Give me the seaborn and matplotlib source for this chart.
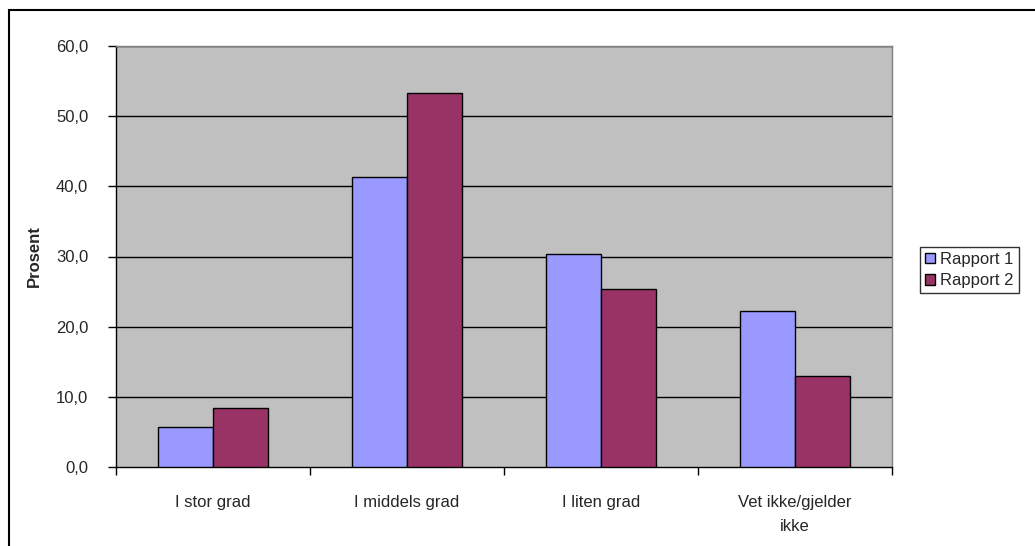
import pandas as pd
import numpy as np
import seaborn as sns
import matplotlib.pyplot as plt
import matplotlib.ticker as ticker
from matplotlib.patches import Rectangle

categories = ["I stor grad", "I middels grad", "I liten grad", "Vet ikke/gjelder\nikke"]
rapport_1 = [5.7, 41.4, 30.3, 22.2]
rapport_2 = [8.4, 53.3, 25.3, 13.0]
series_names = ["Rapport 1", "Rapport 2"]
y_ticks = [0, 10, 20, 30, 40, 50, 60]

df = pd.DataFrame({
    "kategori": categories * 2,
    "prosent": rapport_1 + rapport_2,
    "serie": [series_names[0]] * 4 + [series_names[1]] * 4,
})

sns.set_style("white")
plt.rcParams["font.family"] = ["Liberation Sans", "DejaVu Sans"]
fs = 12

fig = plt.figure(figsize=(10.35, 5.46), dpi=100)
ax = fig.add_axes([116 / 1035, 1 - 467 / 546, (892 - 116) / 1035, (467 - 46) / 546])
ax.set_facecolor("#C0C0C0")

sns.barplot(data=df, x="kategori", y="prosent", hue="serie", order=categories,
            palette=["#9999FF", "#993366"], saturation=1, width=0.57, edgecolor="black",
            linewidth=1, ax=ax, legend=True, zorder=3)

ax.set_ylim(0, 60)
ax.set_xlim(-0.5, 3.5)
ax.set_yticks(y_ticks)
ax.yaxis.set_major_formatter(ticker.FuncFormatter(lambda v, p: f"{v:.1f}".replace(".", ",")))
for v in y_ticks[1:]:
    ax.axhline(v, color="black", linewidth=1, zorder=1)

ax.set_xticks(range(4))
ax.set_xticklabels(categories, fontsize=fs, linespacing=1.75)
ax.set_xticks(np.arange(-0.5, 4, 1), minor=True)
ax.tick_params(axis="x", which="major", length=0, pad=20)
ax.tick_params(axis="x", which="minor", length=6, width=1, color="black", direction="out", bottom=True)
ax.tick_params(axis="y", length=6, width=1, color="black", direction="out", left=True, labelsize=fs, pad=14)

ax.set_xlabel("")
ax.set_ylabel("Prosent", fontsize=fs, fontweight="bold", labelpad=10)

for side in ["left", "bottom"]:
    ax.spines[side].set_color("black")
    ax.spines[side].set_linewidth(1)
for side in ["top", "right"]:
    ax.spines[side].set_color("#808080")
    ax.spines[side].set_linewidth(1)

handles, labels = ax.get_legend_handles_labels()
ax.get_legend().remove()
leg = fig.legend(handles, labels, loc="center left", bbox_to_anchor=(912 / 1035, 1 - 270 / 546),
                 frameon=True, fancybox=False, edgecolor="black", fontsize=fs,
                 handlelength=0.6, handleheight=0.6, handletextpad=0.3, borderpad=0.3,
                 labelspacing=0.4)
leg.get_frame().set_linewidth(1)

fig.patches.append(Rectangle((9 / 1035, -0.1), 1.2, 1 - 10 / 546 + 0.1,
                             transform=fig.transFigure, fill=False,
                             edgecolor="black", linewidth=1.5))

fig.savefig("out.png", dpi=100)
